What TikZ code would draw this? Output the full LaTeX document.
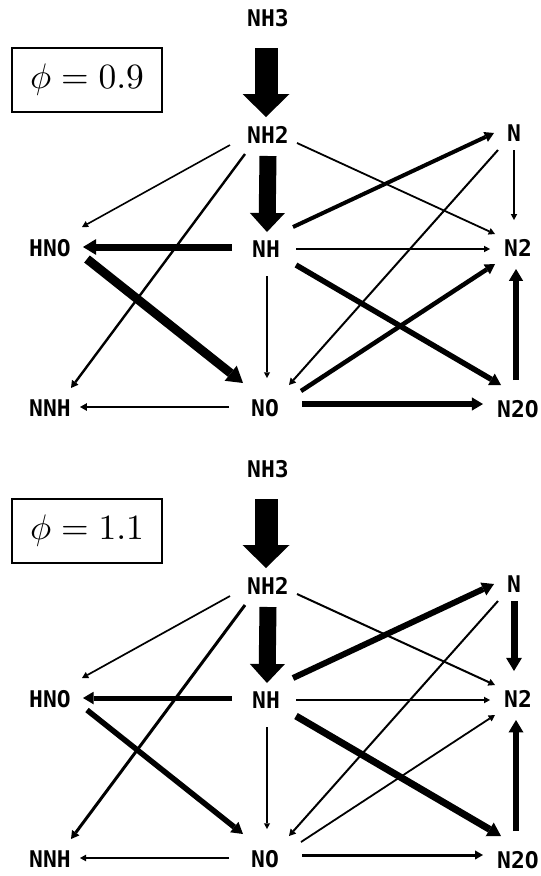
\documentclass[tikz,border=0pt]{standalone}
\usepackage{graphicx}
\usepackage{fontspec}
\newfontfamily\labfont{DejaVu Sans Mono}
\usetikzlibrary{arrows.meta}
\newcommand\drawpanel[2]{%
  \node[lab] (#1nh3) at (268,18) {NH3};
  \node[lab] (#1nh2) at (268,135) {NH2};
  \node[lab] (#1n) at (514,133) {N};
  \node[lab] (#1hno) at (50,248) {HNO};
  \node[lab] (#1nh) at (266,249) {NH};
  \node[lab] (#1ntwo) at (518,248) {N2};
  \node[lab] (#1nnh) at (50,408) {NNH};
  \node[lab] (#1no) at (265,408) {NO};
  \node[lab] (#1ntwoo) at (518,409) {N2O};
  \node[phibox] (#1phi) at (87,80) {\scalebox{3.55}{$\phi = #2$}};
  \draw[bigblk] ([shift={(-2,30)}]#1nh3.center) -- ([shift={(-2,-18)}]#1nh2.center);
  \draw[midblk] ([shift={(0,21)}]#1nh2.center) -- ([shift={(1,-17)}]#1nh.center);
  \draw[wA] ([shift={(-38,10)}]#1nh2.center) -- ([shift={(32,-21)}]#1hno.center);
  \draw[wB] ([shift={(-23,19)}]#1nh2.center) -- ([shift={(21,-20)}]#1nnh.center);
  \draw[wC] ([shift={(29,8)}]#1nh2.center) -- ([shift={(-23,-14)}]#1ntwo.center);
  \draw[wD] ([shift={(27,-22)}]#1nh.center) -- ([shift={(-20,0)}]#1n.center);
  \draw[wE] ([shift={(-16,17)}]#1n.center) -- ([shift={(24,-23)}]#1no.center);
  \draw[wF] ([shift={(0,17)}]#1n.center) -- ([shift={(-4,-28)}]#1ntwo.center);
  \draw[wG] ([shift={(-34,-2)}]#1nh.center) -- ([shift={(33,-1)}]#1hno.center);
  \draw[wH] ([shift={(30,0)}]#1nh.center) -- ([shift={(-28,1)}]#1ntwo.center);
  \draw[wI] ([shift={(37,11)}]#1hno.center) -- ([shift={(-22,-25)}]#1no.center);
  \draw[wJ] ([shift={(1,27)}]#1nh.center) -- ([shift={(2,-30)}]#1no.center);
  \draw[wK] ([shift={(30,16)}]#1nh.center) -- ([shift={(-17,-24)}]#1ntwoo.center);
  \draw[wL] ([shift={(36,-17)}]#1no.center) -- ([shift={(-23,16)}]#1ntwo.center);
  \draw[wM] ([shift={(-2,-29)}]#1ntwoo.center) -- ([shift={(-2,21)}]#1ntwo.center);
  \draw[wN] ([shift={(-36,-1)}]#1no.center) -- ([shift={(30,-1)}]#1nnh.center);
  \draw[wO] ([shift={(37,-4)}]#1no.center) -- ([shift={(-35,-5)}]#1ntwoo.center);
}
\begin{document}
\begin{tikzpicture}[x=1pt,y=-1pt,
  lab/.style={inner sep=0pt, font=\labfont\bfseries\fontsize{23}{25}\selectfont},
  phibox/.style={draw, line width=1.3pt, minimum width=150pt, minimum height=64pt, inner sep=0pt},
  flow/.style={line width=#1pt, -{Triangle[length=4pt 1.3, width=4pt 1.7, line width=0pt 0 0]}},
  bigblk/.style={line width=23pt, -{Triangle[length=23pt 0 0, width=47pt 0 0, line width=0pt 0 0]}},
  midblk/.style={line width=17pt, -{Triangle[length=19pt 0 0, width=35pt 0 0, line width=0pt 0 0]}}]
\useasboundingbox (0,0) rectangle (541,876);
\begin{scope}[wA/.style={flow=1.6}, wB/.style={flow=2.4}, wC/.style={flow=1.8},
  wD/.style={flow=4}, wE/.style={flow=2}, wF/.style={flow=1.4}, wG/.style={flow=7},
  wH/.style={flow=1.4}, wI/.style={flow=9}, wJ/.style={flow=1.3}, wK/.style={flow=5.5},
  wL/.style={flow=4.5}, wM/.style={flow=6}, wN/.style={flow=2.2}, wO/.style={flow=5.5}]
  \drawpanel{t}{0.9}
\end{scope}
\begin{scope}[shift={(0,451)}, wA/.style={flow=1.7}, wB/.style={flow=3}, wC/.style={flow=2},
  wD/.style={flow=6}, wE/.style={flow=2}, wF/.style={flow=7}, wG/.style={flow=5},
  wH/.style={flow=1.5}, wI/.style={flow=5.5}, wJ/.style={flow=1.3}, wK/.style={flow=7},
  wL/.style={flow=1.8}, wM/.style={flow=6.5}, wN/.style={flow=1.6}, wO/.style={flow=3}]
  \drawpanel{b}{1.1}
\end{scope}
\end{tikzpicture}
\end{document}
